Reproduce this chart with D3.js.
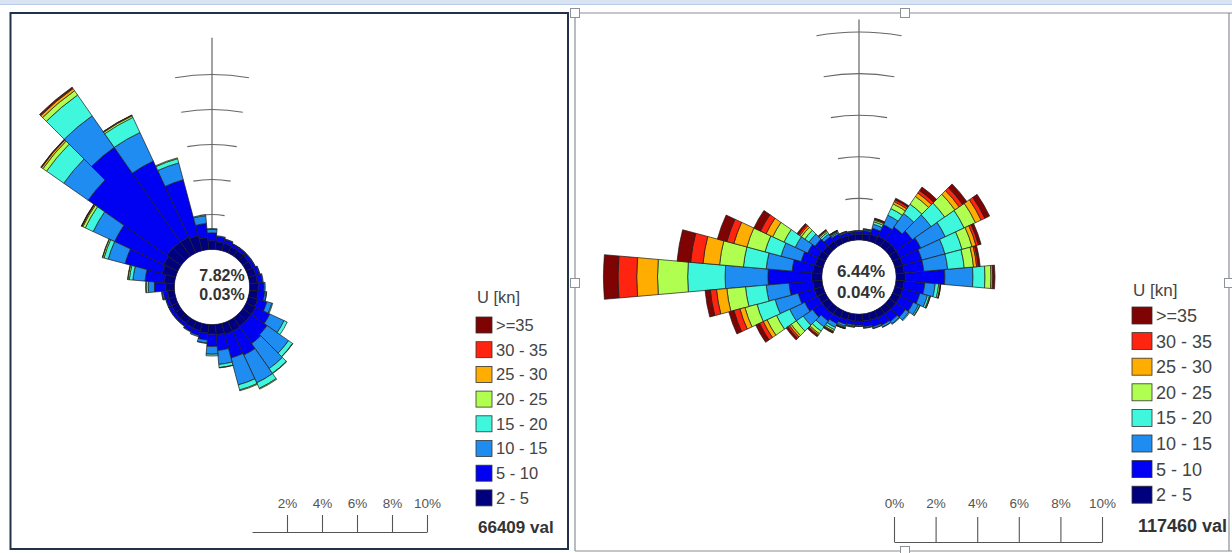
<!DOCTYPE html>
<html><head><meta charset="utf-8">
<script src="https://cdn.jsdelivr.net/npm/d3@7"></script>
<style>
body{margin:0;background:#fff;}
svg{display:block;font-family:Arial,"Liberation Sans",sans-serif;}
</style>
</head><body>
<svg id="chart" width="1232" height="553"></svg>
<script>
// ---------- DATA ----------
const directions = [0,10,20,30,40,50,60,70,80,90,100,110,120,130,140,150,160,170,180,190,200,210,220,230,240,250,260,270,280,290,300,310,320,330,340,350];
const speedBins = ["2 - 5","5 - 10","10 - 15","15 - 20","20 - 25","25 - 30","30 - 35",">=35"];
const percentTicksLeft = [2,4,6,8,10];
const percentTicksRight = [0,2,4,6,8,10];
const axisRingTicks = [2,4,6,8,10];

// Left rose (66409 values), frequency % per direction for each speed bin
const left_2_5   = [0.5,0.45,0.45,0.4,0.4,0.4,0.4,0.45,0.45,0.5,0.5,0.55,0.6,0.6,0.6,0.65,0.65,0.6,0.55,0.5,0.45,0.42,0.4,0.4,0.4,0.4,0.4,0.5,0.6,0.8,0.9,1.0,1.0,1.0,0.9,0.7];
const left_5_10  = [0.45,0.3,0.22,0.18,0.18,0.17,0.18,0.22,0.3,0.33,0.38,0.55,0.9,1.1,1.2,1.5,1.4,0.9,0.7,0.4,0.28,0.24,0.18,0.18,0.18,0.17,0.25,0.65,1.1,2.2,3.1,5.5,6.6,4.8,3.3,0.8];
const left_10_15 = [0.2,0.05,0.03,0.02,0.02,0.03,0.02,0.03,0.05,0.07,0.1,0.3,0.9,1.5,1.75,1.75,1.6,0.8,0.45,0.17,0.07,0.04,0.02,0.02,0.02,0.03,0.08,0.35,0.7,1.0,1.35,1.7,2.2,1.8,1.0,0.45];
const left_15_20 = [0.05,0,0,0,0,0,0,0,0,0,0.02,0.05,0.2,0.28,0.32,0.35,0.3,0.18,0.1,0.03,0,0,0,0,0,0,0.02,0.12,0.2,0.25,0.5,1.2,1.45,0.95,0.25,0.05];
const left_20_25 = [0,0,0,0,0,0,0,0,0,0,0,0,0,0.02,0.03,0.05,0.05,0.02,0,0,0,0,0,0,0,0,0,0.03,0.08,0.08,0.15,0.25,0.3,0.1,0.05,0];
const left_25_30 = [0,0,0,0,0,0,0,0,0,0,0,0,0,0,0,0,0,0,0,0,0,0,0,0,0,0,0,0,0.02,0.02,0.06,0.1,0.15,0.04,0,0];
const left_30_35 = [0,0,0,0,0,0,0,0,0,0,0,0,0,0,0,0,0,0,0,0,0,0,0,0,0,0,0,0,0,0,0.02,0.03,0.05,0.01,0,0];
const left_35    = [0,0,0,0,0,0,0,0,0,0,0,0,0,0,0,0,0,0,0,0,0,0,0,0,0,0,0,0,0,0,0.02,0.02,0.05,0,0,0];

// Right rose (117460 values)
const right_2_5   = [0.28,0.3,0.35,0.4,0.4,0.4,0.4,0.4,0.4,0.45,0.4,0.4,0.4,0.4,0.38,0.38,0.36,0.35,0.34,0.34,0.35,0.38,0.4,0.4,0.4,0.45,0.45,0.5,0.45,0.4,0.4,0.35,0.32,0.3,0.28,0.28];
const right_5_10  = [0.12,0.15,0.3,0.6,0.75,0.95,1.1,0.95,0.95,1.9,1.0,0.85,0.7,0.55,0.45,0.4,0.34,0.27,0.2,0.19,0.23,0.32,0.4,0.55,0.7,0.8,1.15,2.1,1.0,0.7,0.55,0.45,0.28,0.2,0.14,0.12];
const right_10_15 = [0.04,0.06,0.2,0.5,0.8,1.1,1.3,1.15,1.15,1.35,0.5,0.38,0.28,0.2,0.14,0.1,0.08,0.06,0.05,0.07,0.1,0.2,0.35,0.55,0.8,1.15,1.1,2.06,1.25,1.0,0.65,0.35,0.15,0.08,0.05,0.04];
const right_15_20 = [0.01,0.03,0.12,0.35,0.55,0.8,1.0,0.85,0.8,0.58,0.17,0.1,0.07,0.05,0.03,0.02,0.02,0.02,0.01,0.03,0.05,0.12,0.25,0.4,0.7,0.9,1.0,1.8,1.1,0.8,0.6,0.25,0.1,0.05,0.02,0.01];
const right_20_25 = [0,0.01,0.08,0.25,0.45,0.6,0.6,0.5,0.45,0.29,0.07,0.04,0.02,0,0,0,0,0,0,0.02,0.03,0.08,0.15,0.3,0.5,0.6,0.9,1.45,1.15,0.9,0.6,0.2,0.07,0.03,0.01,0];
const right_25_30 = [0,0,0.04,0.12,0.2,0.25,0.3,0.2,0.15,0.08,0.02,0.01,0,0,0,0,0,0,0,0,0.02,0.04,0.07,0.1,0.2,0.25,0.5,1.0,0.8,0.65,0.35,0.1,0.04,0.02,0,0];
const right_30_35 = [0,0,0.03,0.1,0.15,0.2,0.2,0.12,0.08,0.05,0.01,0,0,0,0,0,0,0,0,0,0.01,0.03,0.05,0.1,0.2,0.3,0.3,0.9,0.6,0.35,0.3,0.08,0.02,0.01,0,0];
const right_35    = [0,0,0.03,0.08,0.2,0.25,0.25,0.13,0.09,0.06,0,0,0,0,0,0,0,0,0,0,0.01,0.03,0.06,0.1,0.2,0.25,0.25,0.7,0.65,0.47,0.35,0.08,0.02,0.01,0,0];

const leftCenterText = ["7.82%","0.03%"];
const rightCenterText = ["6.44%","0.04%"];
const leftCount = "66409 val";
const rightCount = "117460 val";
const leftAxisMax = 12.1;
const rightAxisMax = 10.6;

// ---------- STYLE ----------
const binColors = ["#00007f","#0000f2","#1f8cf2","#3ff7dc","#b0ff50","#ffad00","#ff2410","#7f0303"];

const svg = d3.select("#chart");

// page decorations (document frames)
svg.append("rect").attr("x",0).attr("y",0).attr("width",1232).attr("height",4).attr("fill","#d8e3f3");
svg.append("line").attr("x1",0).attr("x2",1232).attr("y1",4.5).attr("y2",4.5).attr("stroke","#b9cbe4");
svg.append("rect").attr("x",10.5).attr("y",13).attr("width",557.5).attr("height",536)
  .attr("fill","none").attr("stroke","#22324b").attr("stroke-width",2);
svg.append("path").attr("d","M575,13H1232M575,13V551M575,551H1232M1229,13V551")
  .attr("fill","none").attr("stroke","#8a8f96").attr("stroke-width",1.2);
[[575,13],[905,13],[575,283],[905,551],[1229,283]].forEach(([x,y])=>{
  svg.append("rect").attr("x",x-4.5).attr("y",y-4.5).attr("width",9).attr("height",9)
    .attr("fill","#fff").attr("stroke","#8d9399").attr("stroke-width",1);
});

function buildRows(series){
  return directions.map((d,i)=>{
    const row={dir:d};
    speedBins.forEach((b,j)=>row[b]=series[j][i]);
    return row;
  });
}

function drawRose(cfg){
  const g = svg.append("g").attr("transform",`translate(${cfg.cx},${cfg.cy})`);
  const r = d3.scaleLinear().domain([0,10]).range([cfg.hole, cfg.hole+10*cfg.k]);
  // frequency axis
  g.append("line").attr("x1",0).attr("x2",0).attr("y1",0).attr("y2",-r(cfg.axisMax))
    .attr("stroke","#555").attr("stroke-width",1.1);
  const half = 10*Math.PI/180;
  g.selectAll("path.ring").data(axisRingTicks).join("path").attr("class","ring")
    .attr("d",t=>{const p=d3.path(); p.arc(0,0,r(t),-Math.PI/2-half,-Math.PI/2+half); return p.toString();})
    .attr("fill","none").attr("stroke","#666").attr("stroke-width",1.1);
  // stacked bars
  const rows = buildRows(cfg.series);
  const stack = d3.stack().keys(speedBins)(rows);
  const arc = d3.arc();
  const sectorHalf = 5*Math.PI/180;
  stack.forEach((layer,j)=>{
    g.append("g").selectAll("path").data(layer.filter(s=>s[1]-s[0]>0)).join("path")
      .attr("d",s=>{
        const a=s.data.dir*Math.PI/180;
        return arc({innerRadius:r(s[0]),outerRadius:r(s[1]),startAngle:a-sectorHalf,endAngle:a+sectorHalf});
      })
      .attr("fill",binColors[j]).attr("stroke","#1b1b1b").attr("stroke-width",0.7)
      .attr("stroke-linejoin","round");
  });
  g.append("circle").attr("r",cfg.hole-0.5).attr("fill","#fff");
  g.selectAll("text.ct").data(cfg.centerText).join("text").attr("class","ct")
    .attr("x",cfg.textDx).attr("y",(d,i)=>cfg.textY[i]).attr("text-anchor","middle")
    .attr("font-size",cfg.textSize).attr("font-weight","bold").attr("fill","#333").text(d=>d);

  // scale bar
  const xs = d3.scaleLinear().domain([0,10]).range([cfg.barX0, cfg.barX0+10*cfg.k]);
  const axisG = svg.append("g").attr("transform",`translate(0,${cfg.barY})`)
    .call(d3.axisTop(xs).tickValues(cfg.barTicks).tickSize(cfg.barTick).tickSizeOuter(0)
      .tickPadding(cfg.barPad).tickFormat(d=>d+"%"));
  axisG.select(".domain").attr("stroke","#555").attr("stroke-width",1.1);
  axisG.selectAll(".tick line").attr("stroke","#555").attr("stroke-width",1.1);
  axisG.selectAll(".tick text").attr("font-size",13.5).attr("fill","#555")
    .attr("font-family","Arial,'Liberation Sans',sans-serif");

  // legend
  const lg = svg.append("g");
  lg.append("text").attr("x",cfg.legX+1).attr("y",cfg.legTitleY).attr("font-size",cfg.legTitleSize)
    .attr("fill","#444").text("U [kn]");
  const order = speedBins.map((b,j)=>j).reverse();
  order.forEach((j,i)=>{
    const cy = cfg.legY0 + i*cfg.legStep;
    lg.append("rect").attr("x",cfg.legX).attr("y",cy-cfg.swH/2).attr("width",cfg.swW).attr("height",cfg.swH)
      .attr("fill",binColors[j]).attr("stroke","#333").attr("stroke-width",0.8);
    lg.append("text").attr("x",cfg.legX+cfg.swW+4).attr("y",cy+cfg.legFont*0.36)
      .attr("font-size",cfg.legFont).attr("fill","#444").text(speedBins[j]);
  });
  lg.append("text").attr("x",cfg.countX).attr("y",cfg.countY).attr("font-size",cfg.countSize)
    .attr("font-weight","bold").attr("fill","#333").text(cfg.count);
}

drawRose({
  cx:212, cy:287, hole:37.5, k:17.5, axisMax:leftAxisMax,
  series:[left_2_5,left_5_10,left_10_15,left_15_20,left_20_25,left_25_30,left_30_35,left_35],
  centerText:leftCenterText, textDx:10, textY:[-6,13], textSize:16,
  barX0:252, barY:532, barTicks:percentTicksLeft, barTick:17, barPad:7,
  legX:476, legTitleY:303, legTitleSize:16.5, legY0:325, legStep:24.7, swW:16, swH:16, legFont:16.5,
  count:leftCount, countX:478, countY:533, countSize:17
});
drawRose({
  cx:859, cy:277, hole:37, k:20.8, axisMax:rightAxisMax,
  series:[right_2_5,right_5_10,right_10_15,right_15_20,right_20_25,right_25_30,right_30_35,right_35],
  centerText:rightCenterText, textDx:2, textY:[0,21], textSize:17,
  barX0:894, barY:542, barTicks:percentTicksRight, barTick:25, barPad:9,
  legX:1132, legTitleY:296, legTitleSize:17, legY0:315.5, legStep:25.6, swW:20, swH:17, legFont:18,
  count:rightCount, countX:1138, countY:532, countSize:18
});
</script>
</body></html>
